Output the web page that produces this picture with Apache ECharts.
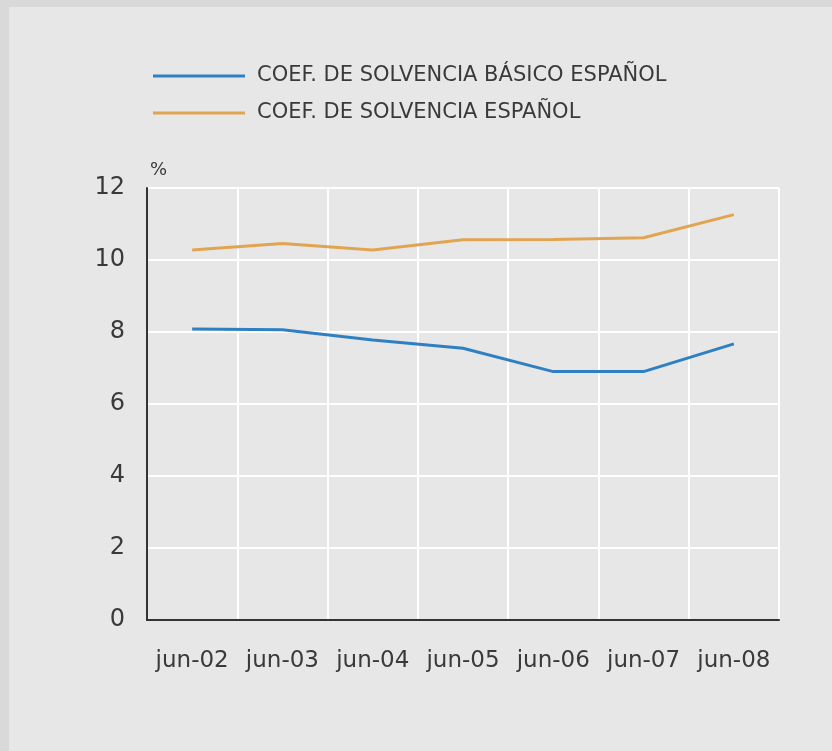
<!DOCTYPE html>
<html>
<head>
<meta charset="utf-8">
<script src="https://cdn.jsdelivr.net/npm/echarts@6/dist/echarts.min.js"></script>
<style>
html, body { margin:0; padding:0; width:832px; height:751px; overflow:hidden; background:#d9d9d9; }
#panel { position:absolute; left:9px; top:7px; right:0; bottom:0; background:#e7e7e7; }
#chart { position:absolute; left:0; top:0; width:832px; height:751px; }
</style>
</head>
<body>
<div id="panel"></div>
<div id="chart"></div>
<script>
const categories = ['jun-02', 'jun-03', 'jun-04', 'jun-05', 'jun-06', 'jun-07', 'jun-08'];
const basico = [8.08, 8.06, 7.78, 7.55, 6.90, 6.90, 7.67];
const solvencia = [10.28, 10.46, 10.28, 10.56, 10.57, 10.62, 11.26];
const seriesNames = ['COEF. DE SOLVENCIA BÁSICO ESPAÑOL', 'COEF. DE SOLVENCIA ESPAÑOL'];

const FONT = 'DejaVu Sans';
const TEXT = '#3a3a3a';
const chart = echarts.init(document.getElementById('chart'), null, { renderer: 'canvas' });
chart.setOption({
  backgroundColor: 'transparent',
  animation: false,
  legend: {
    orient: 'vertical',
    left: 148,
    top: 60,
    itemWidth: 92,
    itemHeight: 3,
    itemGap: 15,
    icon: 'rect',
    data: seriesNames.map(n => ({ name: n })),
    textStyle: { fontFamily: FONT, fontSize: 21, color: TEXT, lineHeight: 22, padding: [0, 0, 0, 7] }
  },
  grid: { left: 147, right: 53, top: 188, bottom: 131, containLabel: false },
  xAxis: {
    type: 'category',
    data: categories,
    boundaryGap: true,
    axisLine: { show: true, lineStyle: { color: '#333', width: 2 } },
    axisTick: { show: false },
    splitLine: { show: true, interval: 0, lineStyle: { color: '#ffffff', width: 2 } },
    axisLabel: { interval: 0, margin: 30, fontFamily: FONT, fontSize: 23, color: TEXT }
  },
  yAxis: {
    type: 'value',
    min: 0, max: 12, interval: 2,
    name: '%',
    nameLocation: 'end',
    nameGap: 9,
    nameTextStyle: { fontFamily: FONT, fontSize: 18, color: TEXT, align: 'left', padding: [0, 0, 0, 3] },
    axisLine: { show: true, lineStyle: { color: '#333', width: 2 } },
    axisTick: { show: false },
    splitLine: { show: true, lineStyle: { color: '#ffffff', width: 2 } },
    axisLabel: { margin: 22, fontFamily: FONT, fontSize: 24, color: TEXT }
  },
  series: [
    {
      name: seriesNames[0], type: 'line', data: basico, symbol: 'none',
      lineStyle: { color: '#2f80c2', width: 3 }, itemStyle: { color: '#2f80c2' }, z: 3
    },
    {
      name: seriesNames[1], type: 'line', data: solvencia, symbol: 'none',
      lineStyle: { color: '#e1a552', width: 3 }, itemStyle: { color: '#e1a552' }, z: 3
    }
  ]
});
</script>
</body>
</html>
